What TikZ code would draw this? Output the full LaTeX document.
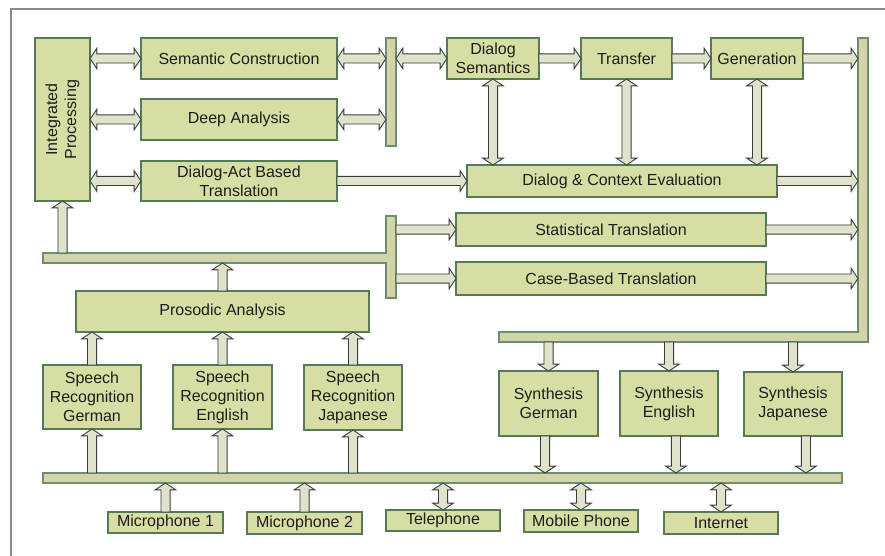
\documentclass[tikz,border=0pt]{standalone}
\usepackage{fontspec}
\setmainfont{Liberation Sans}
\usetikzlibrary{calc}

\definecolor{boxfill}{HTML}{D8DDA4}
\definecolor{boxedge}{HTML}{557A55}
\definecolor{barfill}{HTML}{D2D4A9}
\definecolor{baredge}{HTML}{6E8F6E}
\definecolor{arrfill}{HTML}{DFE3CC}
\definecolor{arredge}{HTML}{3C3C3C}
\definecolor{framegray}{HTML}{8A8A8A}
\definecolor{txt}{HTML}{1E1E1E}

% block arrow geometry
\def\shaft{3.4pt}% half shaft width
\def\headw{7.8pt}% half head width
\def\headl{5.2pt}% head length

\tikzset{
  x=0.75pt, y=-0.75pt,
  % a rectangle given by its corners (x1,y1) and (x2,y2), in pixels
  corners/.style n args={4}{at={({(#1+#3)/2},{(#2+#4)/2})},
      minimum width={(#3-#1)*0.75pt}, minimum height={(#4-#2)*0.75pt}},
  lbl/.style={align=center, text=txt, font=\fontsize{12}{14.3}\selectfont},
  box/.style={lbl, draw=boxedge, fill=boxfill, line width=0.9pt, inner sep=0pt, outer sep=0pt},
  barpart/.style={fill=barfill, inner sep=0pt, outer sep=0pt},
  baroutline/.style={draw=baredge, line width=0.9pt},
  arrowbase/.style={draw=arredge, fill=arrfill, line width=0.7pt, line join=miter},
  oneway/.style={arrowbase, to path={let \p1=(\tikztostart), \p2=(\tikztotarget),
      \p3=($(\p2)!\headl!(\p1)$) in
      ($(\p1)!\shaft!90:(\p2)$) -- ($(\p3)!\shaft!90:(\p2)$) -- ($(\p3)!\headw!90:(\p2)$)
      -- (\p2) -- ($(\p3)!\headw!-90:(\p2)$) -- ($(\p3)!\shaft!-90:(\p2)$)
      -- ($(\p1)!\shaft!-90:(\p2)$) -- cycle}},
  twoway/.style={arrowbase, to path={let \p1=(\tikztostart), \p2=(\tikztotarget),
      \p3=($(\p2)!\headl!(\p1)$), \p4=($(\p1)!\headl!(\p2)$) in
      (\p1) -- ($(\p4)!\headw!-90:(\p1)$) -- ($(\p4)!\shaft!-90:(\p1)$)
      -- ($(\p3)!\shaft!90:(\p2)$) -- ($(\p3)!\headw!90:(\p2)$) -- (\p2)
      -- ($(\p3)!\headw!-90:(\p2)$) -- ($(\p3)!\shaft!-90:(\p2)$)
      -- ($(\p4)!\shaft!90:(\p1)$) -- ($(\p4)!\headw!90:(\p1)$) -- cycle}},
}

\begin{document}
\begin{tikzpicture}
\useasboundingbox (0,0) rectangle (885,556);
\fill[white] (0,0) rectangle (885,556);
\draw[framegray, line width=1.1pt] (11,556) -- (11,9) -- (885,9);

% ---- bars ----
\node[barpart, corners={386}{38}{396}{146}] (bar1) {};
\draw[baroutline] (bar1.north west) rectangle (bar1.south east);
\node[barpart, corners={43}{253}{396}{263}] (lbar) {};
\node[barpart, corners={386}{216}{396}{298}] (bar2) {};
\draw[baroutline] (lbar.south west) -- (lbar.north west) -- (bar2.west |- lbar.north)
  -- (bar2.north west) -- (bar2.north east) -- (bar2.south east) -- (bar2.south west)
  -- (bar2.west |- lbar.south) -- cycle;
\node[barpart, corners={858}{38}{868}{342}] (rbar) {};
\node[barpart, corners={499}{332}{868}{342}] (rbot) {};
\draw[baroutline] (rbar.north west) -- (rbar.north east) -- (rbar.south east)
  -- (rbot.south west) -- (rbot.north west) -- (rbar.west |- rbot.north) -- cycle;
\node[barpart, corners={43}{473}{842}{483}] (bbar) {};
\draw[baroutline] (bbar.north west) rectangle (bbar.south east);

% ---- processing boxes ----
\node[box, corners={35}{38}{90}{201}] (ip) {};
\node[lbl, rotate=90] (iplabel) at (ip.center) {Integrated\\Processing};
\node[box, corners={141}{38}{337}{79}] (sc) {Semantic Construction};
\node[box, corners={141}{99}{337}{140}] (da) {Deep Analysis};
\node[box, corners={141}{161}{337}{201}] (dab) {Dialog-Act Based\\Translation};
\node[box, corners={447}{38}{539}{79}] (ds) {Dialog\\Semantics};
\node[box, corners={581}{38}{672}{79}] (tr) {Transfer};
\node[box, corners={711}{38}{803}{79}] (gen) {Generation};
\node[box, corners={467}{165}{777}{197}] (dce) {Dialog \& Context Evaluation};
\node[box, corners={456}{213}{766}{246}] (st) {Statistical Translation};
\node[box, corners={456}{262}{766}{295}] (cb) {Case-Based Translation};
\node[box, corners={76}{291}{369}{332}] (pa) {Prosodic Analysis};

\node[box, corners={43}{365}{141}{429}] (srg) {Speech\\Recognition\\German};
\node[box, corners={173}{365}{272}{429}] (sre) {Speech\\Recognition\\English};
\node[box, corners={304}{365}{402}{430}] (srj) {Speech\\Recognition\\Japanese};

\node[box, corners={499}{371}{598}{436}] (syg) {Synthesis\\German};
\node[box, corners={620}{371}{718}{436}] (sye) {Synthesis\\English};
\node[box, corners={744}{372}{842}{436}] (syj) {Synthesis\\Japanese};

\node[box, corners={108}{512}{223}{533}] (mic1) {Microphone 1};
\node[box, corners={247}{512}{362}{534}] (mic2) {Microphone 2};
\node[box, corners={386}{510}{500}{531}] (tel) {Telephone};
\node[box, corners={524}{510}{638}{532}] (mob) {Mobile Phone};
\node[box, corners={664}{512}{778}{534}] (inet) {Internet};

% ---- connectors ----
\draw[twoway] (ip.east |- sc.west) to (sc.west);
\draw[twoway] (ip.east |- da.west) to (da.west);
\draw[twoway] (ip.east |- dab.west) to (dab.west);
\draw[twoway] (sc.east) to (sc.east -| bar1.west);
\draw[twoway] (da.east) to (da.east -| bar1.west);
\draw[twoway] (bar1.east |- ds.west) to (ds.west);
\draw[oneway] (ds.east) to (tr.west);
\draw[oneway] (tr.east) to (gen.west);
\draw[oneway] (gen.east) to (gen.east -| rbar.west);
\draw[oneway] (dab.east) to (dab.east -| dce.west);
\draw[twoway] (ds.south) to (ds.south |- dce.north);
\draw[twoway] (tr.south) to (tr.south |- dce.north);
\draw[twoway] (gen.south) to (gen.south |- dce.north);
\draw[oneway] (dce.east) to (dce.east -| rbar.west);
\draw[oneway] (bar2.east |- st.west) to (st.west);
\draw[oneway] (bar2.east |- cb.west) to (cb.west);
\draw[oneway] (st.east) to (st.east -| rbar.west);
\draw[oneway] (cb.east) to (cb.east -| rbar.west);
\draw[oneway] (ip.south |- lbar.north) to (ip.south);
\draw[oneway] (pa.north) to (pa.north |- lbar.south);

\foreach \s in {srg, sre, srj} {
  \draw[oneway] (\s.north) to (\s.north |- pa.south);
  \draw[oneway] (\s.south |- bbar.north) to (\s.south);
}
\foreach \m in {mic1, mic2}
  \draw[oneway] (\m.north) to (\m.north |- bbar.south);
\foreach \m in {tel, mob, inet}
  \draw[twoway] (\m.north) to (\m.north |- bbar.south);

\foreach \s in {syg, sye, syj}
  \draw[oneway] (\s.north |- rbot.south) to (\s.north);
\draw[oneway] ([xshift=-2.6pt]syg.south) to ([xshift=-2.6pt]syg.south |- bbar.north);
\draw[oneway] ([xshift=5.2pt]sye.south) to ([xshift=5.2pt]sye.south |- bbar.north);
\draw[oneway] ([xshift=9.7pt]syj.south) to ([xshift=9.7pt]syj.south |- bbar.north);
\end{tikzpicture}
\end{document}
